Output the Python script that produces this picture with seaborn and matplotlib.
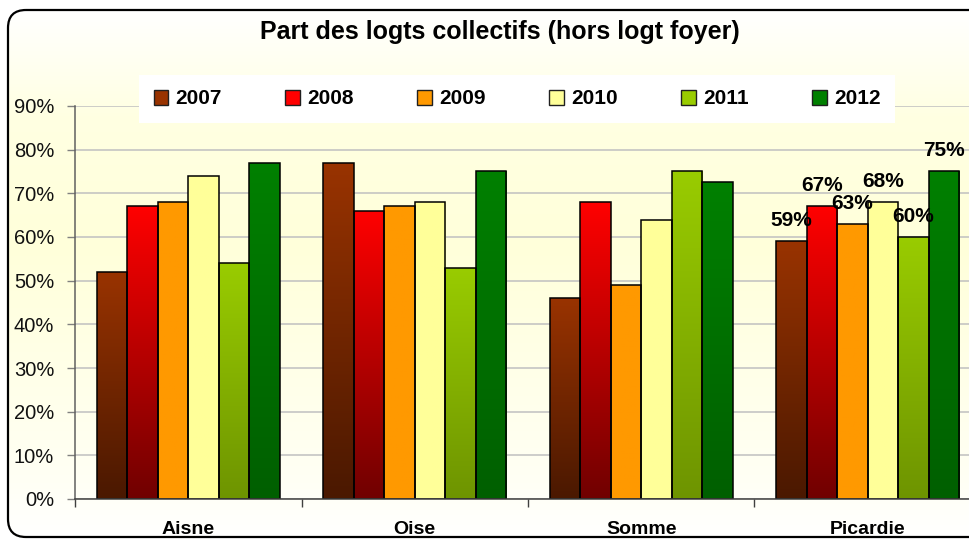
import numpy as np
import pandas as pd
import seaborn as sns
import matplotlib.pyplot as plt
import matplotlib.ticker as ticker
from matplotlib.colors import LinearSegmentedColormap
from matplotlib.patches import FancyBboxPatch, Patch

sns.set_theme(style="white")
plt.rcParams['font.family'] = ['Liberation Sans', 'DejaVu Sans']
plt.rcParams['text.color'] = 'black'

# donnees
territoires = ["Aisne", "Oise", "Somme", "Picardie"]
annees = ["2007", "2008", "2009", "2010", "2011", "2012"]
v2007 = [52, 77, 46, 59]
v2008 = [67, 66, 68, 67]
v2009 = [68, 67, 49, 63]
v2010 = [74, 68, 64, 68]
v2011 = [54, 53, 75, 60]
v2012 = [77, 75, 72.5, 75]

# couleurs haut / bas du degrade
haut = ["#993300", "#FF0000", "#FF9900", "#FFFF99", "#99CC00", "#008000"]
bas = ["#4A1800", "#700000", "#FF9900", "#FFFF99", "#6E9400", "#005F00"]

series = [v2007, v2008, v2009, v2010, v2011, v2012]
rows = []
for an, vals in zip(annees, series):
    for t, v in zip(territoires, vals):
        rows.append({"Territoire": t, "Annee": an, "Part": v})
df = pd.DataFrame(rows)

fig = plt.figure(figsize=(9.7, 5.4), dpi=100)
fig.patch.set_facecolor("white")

# fond arrondi avec degrade
bg = fig.add_axes([0, 0, 1, 1], zorder=0)
bg.axis("off")
fond = LinearSegmentedColormap.from_list("fond", [
    (0.0, "#FFFFFF"), (0.2, "#FFFFE2"), (0.45, "#FFFFDA"), (0.9, "#FFFFF5"), (1.0, "#FFFFFF")])
cadre = FancyBboxPatch((8, 10), 985, 527, boxstyle="round,pad=0,rounding_size=18",
                       facecolor="none", edgecolor="black", lw=1.6)
bg.add_patch(cadre)
im = bg.imshow(np.linspace(0, 1, 256).reshape(-1, 1), extent=[8, 993, 537, 10],
               aspect="auto", cmap=fond, origin="upper", zorder=0)
im.set_clip_path(cadre)
bg.set_xlim(0, 970)
bg.set_ylim(540, 0)

ax = fig.add_axes([75 / 970, 41 / 540, 906 / 970, 393 / 540], zorder=1)
ax.set_facecolor("none")

sns.barplot(data=df, x="Territoire", y="Part", hue="Annee", palette=haut,
            width=0.81, edgecolor="black", linewidth=1.1, saturation=1,
            legend=False, ax=ax)

grad = np.linspace(0, 1, 256).reshape(-1, 1)
for cont, c_haut, c_bas in zip(ax.containers, haut, bas):
    cmap = LinearSegmentedColormap.from_list("g", [c_bas, c_haut])
    for bar in cont:
        x0, w, h = bar.get_x(), bar.get_width(), bar.get_height()
        img = ax.imshow(grad, extent=[x0, x0 + w, 0, h], origin="lower",
                        aspect="auto", cmap=cmap, zorder=1.5)
        img.set_clip_path(bar)
        bar.set_facecolor("none")
        bar.set_zorder(2)
    # etiquettes pour Picardie
    b = cont[3]
    ax.annotate("{:.0f}%".format(b.get_height()),
                (b.get_x() + b.get_width() / 2, b.get_height()),
                xytext=(0, 8), textcoords="offset points", ha="center", va="bottom",
                fontsize=15, fontweight="bold", zorder=5, annotation_clip=False)

ax.set_xlim(-0.5, 3.5)
ax.set_ylim(0, 90)
ax.yaxis.set_major_locator(ticker.MultipleLocator(10))
ax.yaxis.set_major_formatter(ticker.FuncFormatter(lambda v, p: "{:.0f}%".format(v)))
ax.set_axisbelow(True)
ax.yaxis.grid(True, color="#C0C0C0", lw=1.1)
ax.xaxis.grid(False)
ax.set_xlabel("")
ax.set_ylabel("")

ax.xaxis.set_minor_locator(ticker.FixedLocator([-0.5, 0.5, 1.5, 2.5]))
ax.tick_params(axis="x", which="major", length=0, pad=16, labelsize=14, labelcolor="black")
ax.tick_params(axis="x", which="minor", length=6, width=1, color="#404040", direction="out", bottom=True)
ax.tick_params(axis="y", length=6, width=1, color="#808080", direction="out", left=True,
               labelsize=14.5, labelcolor="#111111", pad=9)
for lab in ax.get_xticklabels():
    lab.set_fontweight("bold")

for s in ["top", "right"]:
    ax.spines[s].set_visible(False)
ax.spines["left"].set_color("#606060")
ax.spines["bottom"].set_color("#404040")
ax.spines["left"].set_linewidth(1.1)
ax.spines["bottom"].set_linewidth(1.1)

handles = [Patch(facecolor=c, edgecolor="#202020", lw=1) for c in haut]
leg = ax.legend(handles, annees, ncol=6, loc="center", mode="expand",
                bbox_to_anchor=(139 / 970, 1 - 123 / 540, 756 / 970, 48 / 540),
                bbox_transform=fig.transFigure, frameon=True, fancybox=False,
                facecolor="white", edgecolor="none", framealpha=1,
                handlelength=0.7, handleheight=0.7, handletextpad=0.35,
                borderpad=0.7, borderaxespad=0,
                prop={"weight": "bold", "size": 15})
leg.get_frame().set_boxstyle("square", pad=0)

fig.text(500 / 970, 1 - 32 / 540, "Part des logts collectifs (hors logt foyer)",
         ha="center", va="center", fontsize=18, fontweight="bold")

plt.savefig("out.png", dpi=100)
